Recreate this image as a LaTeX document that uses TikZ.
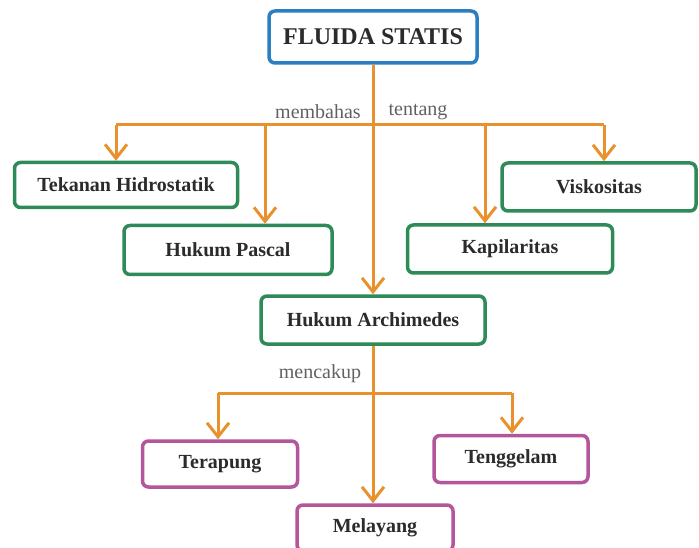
\documentclass[tikz,border=0pt]{standalone}
\usepackage{fontspec}
\setmainfont{Liberation Serif}
\usetikzlibrary{positioning, arrows.meta, calc}
\definecolor{arrOrange}{HTML}{E8912D}
\definecolor{boxGreen}{HTML}{2E8B57}
\definecolor{boxBlue}{HTML}{2B7EC1}
\definecolor{boxPink}{HTML}{B4569C}
\definecolor{txtGray}{HTML}{2B2B2B}
\tikzset{
  concept/.style={draw=boxGreen, line width=3.5pt, rounded corners=6pt, fill=white,
    minimum height=47pt, inner sep=0pt, text=txtGray,
    font=\fontsize{20}{24}\selectfont\bfseries},
  topic/.style={concept, draw=boxBlue, font=\fontsize{24}{28}\selectfont\bfseries},
  kind/.style={concept, draw=boxPink},
  link/.style={draw=arrOrange, line width=3pt},
  linkarr/.style={link, -{Straight Barb[length=14pt,width=22pt]}},
  word/.style={font=\fontsize{20}{24}\selectfont, text=black!62}
}
\begin{document}
\begin{tikzpicture}[x=1pt, y=-1pt]
    \useasboundingbox (0,0) rectangle (699,548);
    \node[topic, minimum width=208pt, minimum height=52pt] (fluida) at (373,37) {FLUIDA STATIS};
    \node[concept, minimum width=223pt, minimum height=45pt] (tekanan) at (126,185) {Tekanan Hidrostatik};
    \node[concept, minimum width=208pt, minimum height=49pt] (pascal) at (228,250) {Hukum Pascal};
    \node[concept, minimum width=205pt, minimum height=48pt] (kapilaritas) at (510,249) {Kapilaritas};
    \node[concept, minimum width=194pt, minimum height=48pt] (viskositas) at (599,187) {Viskositas};
    \node[concept, minimum width=224pt, minimum height=48pt] (archimedes) at (373,320) {Hukum Archimedes};
    \node[kind, minimum width=155pt, minimum height=46pt] (terapung) at (220,464) {Terapung};
    \node[kind, minimum width=154pt, minimum height=47pt] (tenggelam) at (511,459) {Tenggelam};
    \node[kind, minimum width=156pt, minimum height=46pt] (melayang) at (375,528) {Melayang};
    \node[word] (membahas) at (318,112) {membahas};
    \node[word] (tentang) at (418,112) {tentang};
    \node[word] (mencakup) at (320,374) {mencakup};
    \coordinate (barA) at (116,125);
    \coordinate (barB) at (265,125);
    \coordinate (barC) at (485,125);
    \coordinate (barD) at (604,125);
    \coordinate (lowA) at (218,393);
    \coordinate (lowB) at (512,393);
    \draw[link] (barA) -- (barD);
    \draw[link] (lowA) -- (lowB);
    \draw[linkarr] (fluida.south) -- (archimedes.north);
    \draw[linkarr] (barA) -- (barA |- tekanan.north);
    \draw[linkarr] (barB) -- (barB |- pascal.north);
    \draw[linkarr] (barC) -- (barC |- kapilaritas.north);
    \draw[linkarr] (barD) -- (barD |- viskositas.north);
    \draw[linkarr] (archimedes.south) -- (archimedes.south |- melayang.north);
    \draw[linkarr] (lowA) -- (lowA |- terapung.north);
    \draw[linkarr] (lowB) -- (lowB |- tenggelam.north);
\end{tikzpicture}
\end{document}
